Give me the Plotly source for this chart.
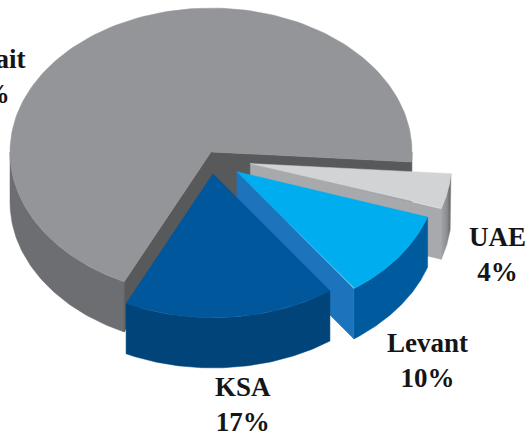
import numpy as np
import plotly.graph_objects as go

# ---- data ----
categories = ["Kuwait", "KSA", "Levant", "UAE"]
shares = [69, 17, 10, 4]
pct_labels = [f"{v}%" for v in shares]

# ---- styles ----
top_colors = ["#939598", "#00579b", "#00aeef", "#d1d3d4"]
side_colors = ["#6d6e71", "#004479", "#005a9e", "#8a8c8e"]
inner_colors = ["#58595b", "#004479", "#1c75bc", "#a7a9ac"]
pull = [0.0, 0.11, 0.16, 0.2]
drop = [0.0, 0.03, 0.03, 0.03]
draw_order = [0, 3, 2, 1]
# label centres in paper fractions
label_pos = {"Kuwait": (-0.032, 0.823), "UAE": (0.936, 0.414),
             "Levant": (0.803, 0.172), "KSA": (0.457, 0.071)}

TILT = 0.716
DEPTH = 0.25
START = -4.0

total = sum(shares)
bounds = [START]
for v in shares:
    bounds.append(bounds[-1] + 360.0 * v / total)


def arc(cx, cy, a0, a1, z=0.0, n=80):
    t = np.radians(np.linspace(a0, a1, n))
    return cx + np.cos(t), cy + TILT * np.sin(t) - z


def front_intervals(a0, a1):
    out = []
    for k in (-1, 0, 1):
        s, e = 180 + 360 * k, 360 + 360 * k
        lo, hi = max(a0, s), min(a1, e)
        if hi > lo:
            out.append((lo, hi))
    return out


fig = go.Figure()


def poly(xs, ys, color, grad=None):
    kw = dict(x=list(xs) + [xs[0]], y=list(ys) + [ys[0]], mode="lines",
              fill="toself", fillcolor=color,
              line=dict(color=color, width=0.5),
              hoverinfo="skip", showlegend=False)
    if grad is not None:
        kw["fillgradient"] = dict(type="horizontal", colorscale=grad)
    fig.add_trace(go.Scatter(**kw))


for i in draw_order:
    a0, a1 = bounds[i], bounds[i + 1]
    m = np.radians((a0 + a1) / 2)
    cx = pull[i] * np.cos(m)
    cy = pull[i] * TILT * np.sin(m) - drop[i]

    # outer side wall (front-facing part)
    for lo, hi in front_intervals(a0, a1):
        xt, yt = arc(cx, cy, lo, hi)
        xb, yb = arc(cx, cy, hi, lo, z=DEPTH)
        grad = None
        if categories[i] == "UAE":
            grad = [[0, "#a2a4a7"], [0.6, "#8a8c8e"], [1, "#5e5f61"]]
        poly(np.concatenate([xt, xb]), np.concatenate([yt, yb]), side_colors[i], grad)

    # radial walls
    for a, visible in ((a0, np.cos(np.radians(a0)) > 0), (a1, np.cos(np.radians(a1)) < 0)):
        if visible:
            px = cx + np.cos(np.radians(a))
            py = cy + TILT * np.sin(np.radians(a))
            poly([cx, px, px, cx], [cy, py, py - DEPTH, cy - DEPTH], inner_colors[i])

    # top face
    xt, yt = arc(cx, cy, a0, a1, n=160)
    poly(np.concatenate([[cx], xt]), np.concatenate([[cy], yt]), top_colors[i])

for cat, pl in zip(categories, pct_labels):
    x, y = label_pos[cat]
    fig.add_annotation(x=x, y=y, xref="paper", yref="paper", text=f"{cat}<br>{pl}",
                       showarrow=False, align="center",
                       font=dict(family="Liberation Serif", size=27, color="#151515"),
                       xanchor="center", yanchor="middle")

fig.update_layout(
    width=532, height=435,
    margin=dict(l=0, r=0, t=0, b=0),
    paper_bgcolor="white", plot_bgcolor="white",
    xaxis=dict(range=[-1.0498, 1.597], visible=False, fixedrange=True),
    yaxis=dict(range=[-1.408, 0.756], visible=False, fixedrange=True,
               scaleanchor="x", scaleratio=1),
)
fig.update_annotations(font_weight="bold")
fig.write_html("out.html", config={"displayModeBar": False},
               post_script="document.body.style.margin='0';document.body.style.overflow='hidden';")
